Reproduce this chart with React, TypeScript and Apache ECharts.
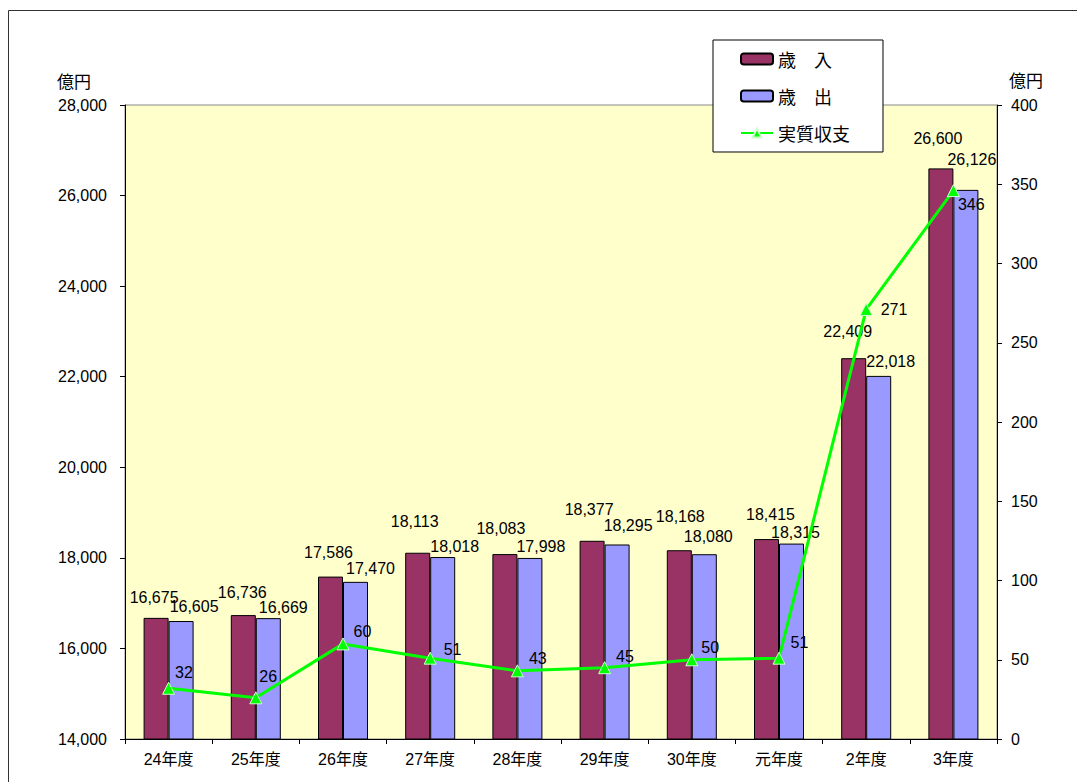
import React, { useEffect, useRef } from "react";
import * as echarts from "echarts";

const categories = ["24年度", "25年度", "26年度", "27年度", "28年度", "29年度", "30年度", "元年度", "2年度", "3年度"];
const revenue = [16675, 16736, 17586, 18113, 18083, 18377, 18168, 18415, 22409, 26600];
const expenditure = [16605, 16669, 17470, 18018, 17998, 18295, 18080, 18315, 22018, 26126];
const balance = [32, 26, 60, 51, 43, 45, 50, 51, 271, 346];

// label nudges (as placed in the original)
const revenueLabelOffsets = [[-2, -7], [-1, -10], [-2, -11], [-3, -18], [-4, -13], [-3, -18], [1, -21], [4, -12], [-6, -14], [-3, -17]];
const expenditureLabelOffsets = [[13, -2], [15, 2], [15, 0], [12, 2], [11, 2], [11, -6], [4, -5], [4, 2], [12, -1], [6, -17]];
const balanceLabelOffsets = [[-5, -16], [-8, -21], [-1, -12], [2, -9], [0, -12], [0, -11], [-2, -12], [0, -16], [3, 0], [-7, 14]];

const FONT = '"Liberation Sans", "Noto Sans CJK JP", "Noto Sans", sans-serif';
const CJK = '"Noto Sans CJK JP", "Noto Sans", sans-serif';
const fmt = (v: number) => v.toLocaleString("en-US");

export default function App() {
  const ref = useRef<HTMLDivElement>(null);
  useEffect(() => {
    const chart = echarts.init(ref.current!, undefined, { renderer: "svg" });
    chart.setOption({
      animation: false,
      textStyle: { fontFamily: FONT },
      graphic: [
        { type: "rect", shape: { x: 8.5, y: 10.5, width: 1200, height: 900 }, style: { fill: "none", stroke: "#333", lineWidth: 1 }, silent: true },
        { type: "text", x: 57, y: 80, style: { text: "億円", font: `17px ${CJK}`, fill: "#000", textVerticalAlign: "middle" } },
        { type: "text", x: 1009, y: 79, style: { text: "億円", font: `17px ${CJK}`, fill: "#000", textVerticalAlign: "middle" } },
      ],
      grid: {
        left: 125, right: 80, top: 105, bottom: 43,
        show: true, backgroundColor: "#FFFFCC", borderColor: "#888", borderWidth: 1,
      },
      legend: {
        orient: "vertical", left: 713, top: 40,
        padding: [10, 33, 10, 27],
        backgroundColor: "#fff", borderColor: "#000", borderWidth: 1,
        itemWidth: 32, itemHeight: 11, itemGap: 19,
        textStyle: { fontSize: 18, color: "#000", fontFamily: CJK },
        data: ["歳　入", "歳　出", "実質収支"],
      },
      xAxis: {
        type: "category", data: categories,
        axisLine: { lineStyle: { color: "#000" } },
        axisTick: { show: true, length: 5, lineStyle: { color: "#000" } },
        axisLabel: { fontSize: 16, color: "#000", margin: 12, fontFamily: FONT },
      },
      yAxis: [
        {
          type: "value", min: 14000, max: 28000, interval: 2000,
          axisLine: { show: true, lineStyle: { color: "#000" } },
          axisTick: { show: true, length: 5, lineStyle: { color: "#000" } },
          axisLabel: { fontSize: 16, color: "#000", margin: 18, fontFamily: FONT, formatter: (v: number) => fmt(v) },
          splitLine: { show: false },
        },
        {
          type: "value", min: 0, max: 400, interval: 50, position: "right",
          axisLine: { show: true, lineStyle: { color: "#000" } },
          axisTick: { show: true, length: 5, lineStyle: { color: "#000" } },
          axisLabel: { fontSize: 16, color: "#000", margin: 14, fontFamily: FONT },
          splitLine: { show: false },
        },
      ],
      series: [
        {
          name: "歳　入", type: "bar", barWidth: 25, barGap: "0%",
          itemStyle: { color: "#993366", borderColor: "#000", borderWidth: 1 },
          label: { show: true, position: "top", distance: 5, fontSize: 16, color: "#000", fontFamily: FONT, formatter: (p: any) => fmt(p.value) },
          data: revenue.map((v, i) => ({ value: v, label: { offset: revenueLabelOffsets[i] } })),
        },
        {
          name: "歳　出", type: "bar", barWidth: 25, barGap: "0%",
          itemStyle: { color: "#9999FF", borderColor: "#000", borderWidth: 1 },
          label: { show: true, position: "top", distance: 5, fontSize: 16, color: "#000", fontFamily: FONT, formatter: (p: any) => fmt(p.value) },
          data: expenditure.map((v, i) => ({ value: v, label: { offset: expenditureLabelOffsets[i] } })),
        },
        {
          name: "実質収支", type: "line", yAxisIndex: 1, z: 5,
          symbol: "triangle", symbolSize: 12,
          lineStyle: { color: "#00FF00", width: 3 },
          itemStyle: { color: "#00FF00", borderColor: "#CCFFCC", borderWidth: 1 },
          label: { show: true, position: "right", distance: 5, fontSize: 16, color: "#000", fontFamily: FONT },
          data: balance.map((v, i) => ({ value: v, label: { offset: balanceLabelOffsets[i] } })),
        },
      ],
    });
    return () => chart.dispose();
  }, []);
  return <div ref={ref} style={{ position: "absolute", left: 0, top: 0, width: 1077, height: 782 }} />;
}
